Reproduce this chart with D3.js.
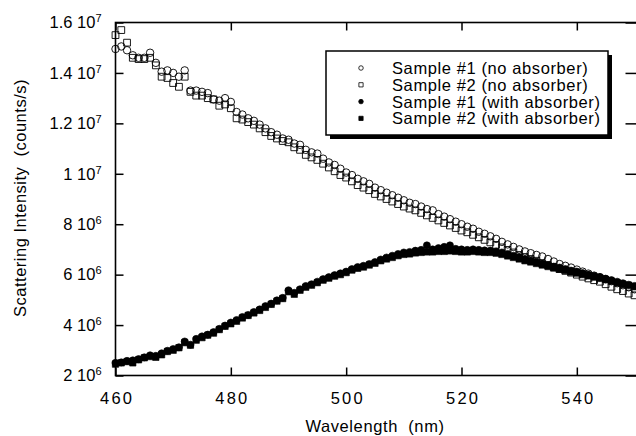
<!DOCTYPE html>
<html>
<head>
<meta charset="utf-8">
<script src="https://cdn.jsdelivr.net/npm/d3@7"></script>
<style>
  body { margin: 0; background: #fff; }
  svg text { font-family: "Liberation Sans", Arial, sans-serif; fill: #000; }
</style>
</head>
<body>
<svg id="chart"></svg>
<script>
// wavelength (nm), shared by all four series
const wavelengths = [460,461,462,463,464,465,466,467,468,469,470,471,472,473,474,475,476,477,478,479,
  480,481,482,483,484,485,486,487,488,489,490,491,492,493,494,495,496,497,498,499,
  500,501,502,503,504,505,506,507,508,509,510,511,512,513,514,515,516,517,518,519,
  520,521,522,523,524,525,526,527,528,529,530,531,532,533,534,535,536,537,538,539,
  540,541,542,543,544,545,546,547,548,549,550];

// intensities in units of 10^6 counts/s
const sample1NoAbs = [14.95,15.05,14.9,14.7,14.6,14.6,14.8,14.4,14.05,14.1,14.0,13.85,14.1,13.3,13.3,13.25,13.2,12.95,12.9,13.0,
  12.85,12.45,12.35,12.2,12.1,11.95,11.8,11.65,11.55,11.4,11.35,11.2,11.15,10.95,10.85,10.8,10.6,10.45,10.35,10.2,
  10.05,9.95,9.8,9.7,9.6,9.45,9.35,9.25,9.15,9.05,8.95,8.85,8.8,8.7,8.6,8.55,8.4,8.3,8.2,8.1,
  8.0,7.9,7.82,7.7,7.62,7.52,7.42,7.3,7.2,7.1,7.0,6.92,6.85,6.78,6.72,6.62,6.52,6.42,6.35,6.28,
  6.2,6.12,6.04,5.96,5.9,5.82,5.74,5.66,5.58,5.5,5.42];

const sample2NoAbs = [15.5,15.7,15.2,14.6,14.55,14.55,14.6,14.3,13.85,13.8,13.6,13.45,13.85,13.25,13.1,13.1,13.0,12.95,12.7,12.75,
  12.6,12.2,12.15,12.05,11.95,11.8,11.65,11.5,11.4,11.3,11.25,11.05,10.95,10.75,10.65,10.55,10.4,10.25,10.1,9.95,
  9.85,9.7,9.55,9.45,9.35,9.2,9.1,9.0,8.9,8.8,8.7,8.62,8.55,8.45,8.35,8.25,8.15,8.05,7.95,7.85,
  7.75,7.68,7.58,7.48,7.38,7.28,7.18,7.08,6.98,6.88,6.78,6.7,6.62,6.55,6.45,6.38,6.3,6.22,6.15,6.08,
  6.0,5.92,5.85,5.78,5.72,5.62,5.52,5.42,5.35,5.25,5.18];

const sample1WithAbs = [2.5,2.52,2.58,2.6,2.65,2.72,2.8,2.78,2.88,2.98,3.05,3.12,3.35,3.22,3.45,3.55,3.62,3.72,3.85,3.98,
  4.1,4.2,4.32,4.4,4.52,4.62,4.75,4.85,4.98,5.08,5.38,5.28,5.42,5.55,5.62,5.72,5.82,5.9,5.98,6.05,
  6.12,6.22,6.3,6.35,6.42,6.5,6.6,6.68,6.75,6.82,6.88,6.9,6.95,6.98,7.16,7.0,7.05,7.1,7.16,7.02,
  7.0,6.98,7.0,6.98,6.96,6.95,6.92,6.88,6.82,6.75,6.7,6.62,6.56,6.5,6.44,6.38,6.32,6.28,6.22,6.16,
  6.12,6.06,6.0,5.95,5.9,5.84,5.78,5.72,5.66,5.6,5.55];

const sample2WithAbs = [2.45,2.5,2.55,2.5,2.62,2.7,2.75,2.72,2.82,2.95,3.0,3.1,3.3,3.2,3.4,3.5,3.6,3.68,3.82,3.95,
  4.05,4.15,4.28,4.38,4.48,4.58,4.7,4.82,4.95,5.05,5.32,5.22,5.38,5.5,5.58,5.68,5.78,5.86,5.94,6.0,
  6.08,6.18,6.25,6.3,6.38,6.45,6.55,6.62,6.68,6.75,6.8,6.82,6.86,6.88,6.9,6.9,6.92,6.92,6.94,6.92,
  6.9,6.9,6.92,6.9,6.88,6.88,6.85,6.8,6.74,6.68,6.62,6.55,6.5,6.44,6.38,6.32,6.26,6.22,6.16,6.1,
  6.06,6.0,5.95,5.9,5.85,5.8,5.74,5.68,5.62,5.58,5.52];

const legendLabels = ["Sample #1 (no absorber)", "Sample #2 (no absorber)",
  "Sample #1 (with absorber)", "Sample #2 (with absorber)"];

const xTickValues = [460, 480, 500, 520, 540];
const yTickValues = [2, 4, 6, 8, 10, 12, 14, 16];
const yTickMantissa = ["2", "4", "6", "8", "1", "1.2", "1.4", "1.6"];
const yTickExponent = ["6", "6", "6", "6", "7", "7", "7", "7"];

const width = 636, height = 436;
const plot = { left: 115.5, right: 634.5, top: 22.5, bottom: 375.5 };

const svg = d3.select("#chart").attr("width", width).attr("height", height);

const x = d3.scaleLinear().domain([460, 550]).range([plot.left, plot.right]);
const y = d3.scaleLinear().domain([2, 16]).range([plot.bottom, plot.top]);

// series styles: symbol type, size, filled or not
const series = [
  { values: sample1NoAbs, type: d3.symbolCircle, size: 44, filled: false },
  { values: sample2NoAbs, type: d3.symbolSquare, size: 46, filled: false },
  { values: sample1WithAbs, type: d3.symbolCircle, size: 40, filled: true },
  { values: sample2WithAbs, type: d3.symbolSquare, size: 40, filled: true },
];

// marks
const marks = svg.append("g");
series.forEach(s => {
  marks.append("g")
    .selectAll("path")
    .data(wavelengths.map((w, i) => [w, s.values[i]]))
    .join("path")
    .attr("transform", d => `translate(${x(d[0])},${y(d[1])})`)
    .attr("d", d3.symbol().type(s.type).size(s.size))
    .attr("fill", s.filled ? "#000" : "none")
    .attr("stroke", "#000")
    .attr("stroke-width", s.filled ? 0.6 : 0.9);
});

// axes (ticks point inward)
const tickLen = 8;
svg.append("g")
  .attr("transform", `translate(0,${plot.bottom})`)
  .call(d3.axisBottom(x).tickValues(xTickValues).tickSize(-tickLen).tickPadding(tickLen + 9))
  .call(g => g.select(".domain").remove())
  .call(g => g.selectAll("line").attr("stroke-width", 1.5))
  .call(g => g.selectAll("text").attr("font-size", 16.5).attr("letter-spacing", "2.2px")
    .attr("fill", "#000").attr("dx", "1.1px"));

svg.append("g")
  .attr("transform", `translate(0,${plot.top})`)
  .call(d3.axisTop(x).tickValues(xTickValues).tickSize(-tickLen).tickFormat(""))
  .call(g => g.select(".domain").remove())
  .call(g => g.selectAll("line").attr("stroke-width", 1.5));

const yAxisG = svg.append("g")
  .attr("transform", `translate(${plot.left},0)`)
  .call(d3.axisLeft(y).tickValues(yTickValues).tickSize(-tickLen).tickPadding(14))
  .call(g => g.select(".domain").remove())
  .call(g => g.selectAll("line").attr("stroke-width", 1.5));

yAxisG.selectAll("text")
  .attr("font-size", 16.5).attr("fill", "#000").attr("dy", "0.32em")
  .text(null)
  .each(function (d, i) {
    const t = d3.select(this);
    t.append("tspan").text(yTickMantissa[i] + " 10");
    t.append("tspan").attr("font-size", 11).attr("dy", "-0.55em").text(yTickExponent[i]);
  });

svg.append("g")
  .attr("transform", `translate(${width + 0.5},0)`)
  .call(d3.axisRight(y).tickValues(yTickValues).tickSize(-11).tickFormat(""))
  .call(g => g.select(".domain").remove())
  .call(g => g.selectAll("line").attr("stroke-width", 1.5));

// frame
svg.append("rect")
  .attr("x", plot.left).attr("y", plot.top)
  .attr("width", width + 1 - plot.left).attr("height", plot.bottom - plot.top)
  .attr("fill", "none").attr("stroke", "#000").attr("stroke-width", 1.6);

// axis titles
svg.append("text")
  .attr("x", 375).attr("y", 432)
  .attr("text-anchor", "middle").attr("font-size", 16.5).attr("letter-spacing", "0.6px")
  .text("Wavelength  (nm)").style("white-space", "pre");

svg.append("text")
  .attr("transform", "translate(26,198) rotate(-90)")
  .attr("text-anchor", "middle").attr("font-size", 16.5).attr("letter-spacing", "0.5px")
  .text("Scattering Intensity  (counts/s)").style("white-space", "pre");

// legend with drop shadow
const legend = svg.append("g").attr("transform", "translate(326,51)");
const lw = 282, lh = 84;
legend.append("rect").attr("x", 4).attr("y", 4).attr("width", lw).attr("height", lh).attr("fill", "#000");
legend.append("rect").attr("width", lw).attr("height", lh)
  .attr("fill", "#fff").attr("stroke", "#000").attr("stroke-width", 1.5);

const legendSymbols = [
  { type: d3.symbolCircle, size: 16, filled: false },
  { type: d3.symbolSquare, size: 18, filled: false },
  { type: d3.symbolCircle, size: 16, filled: true },
  { type: d3.symbolSquare, size: 18, filled: true },
];

const items = legend.selectAll(".legend-item")
  .data(legendLabels)
  .join("g")
  .attr("class", "legend-item")
  .attr("transform", (d, i) => `translate(0,${17 + i * 16.8})`);

items.append("path")
  .attr("transform", "translate(35,0)")
  .attr("d", (d, i) => d3.symbol().type(legendSymbols[i].type).size(legendSymbols[i].size)())
  .attr("fill", (d, i) => legendSymbols[i].filled ? "#000" : "none")
  .attr("stroke", "#000").attr("stroke-width", 0.8);

items.append("text")
  .attr("x", 66).attr("dy", "0.36em")
  .attr("font-size", 16.5).attr("letter-spacing", "0.6px")
  .text(d => d);
</script>
</body>
</html>
